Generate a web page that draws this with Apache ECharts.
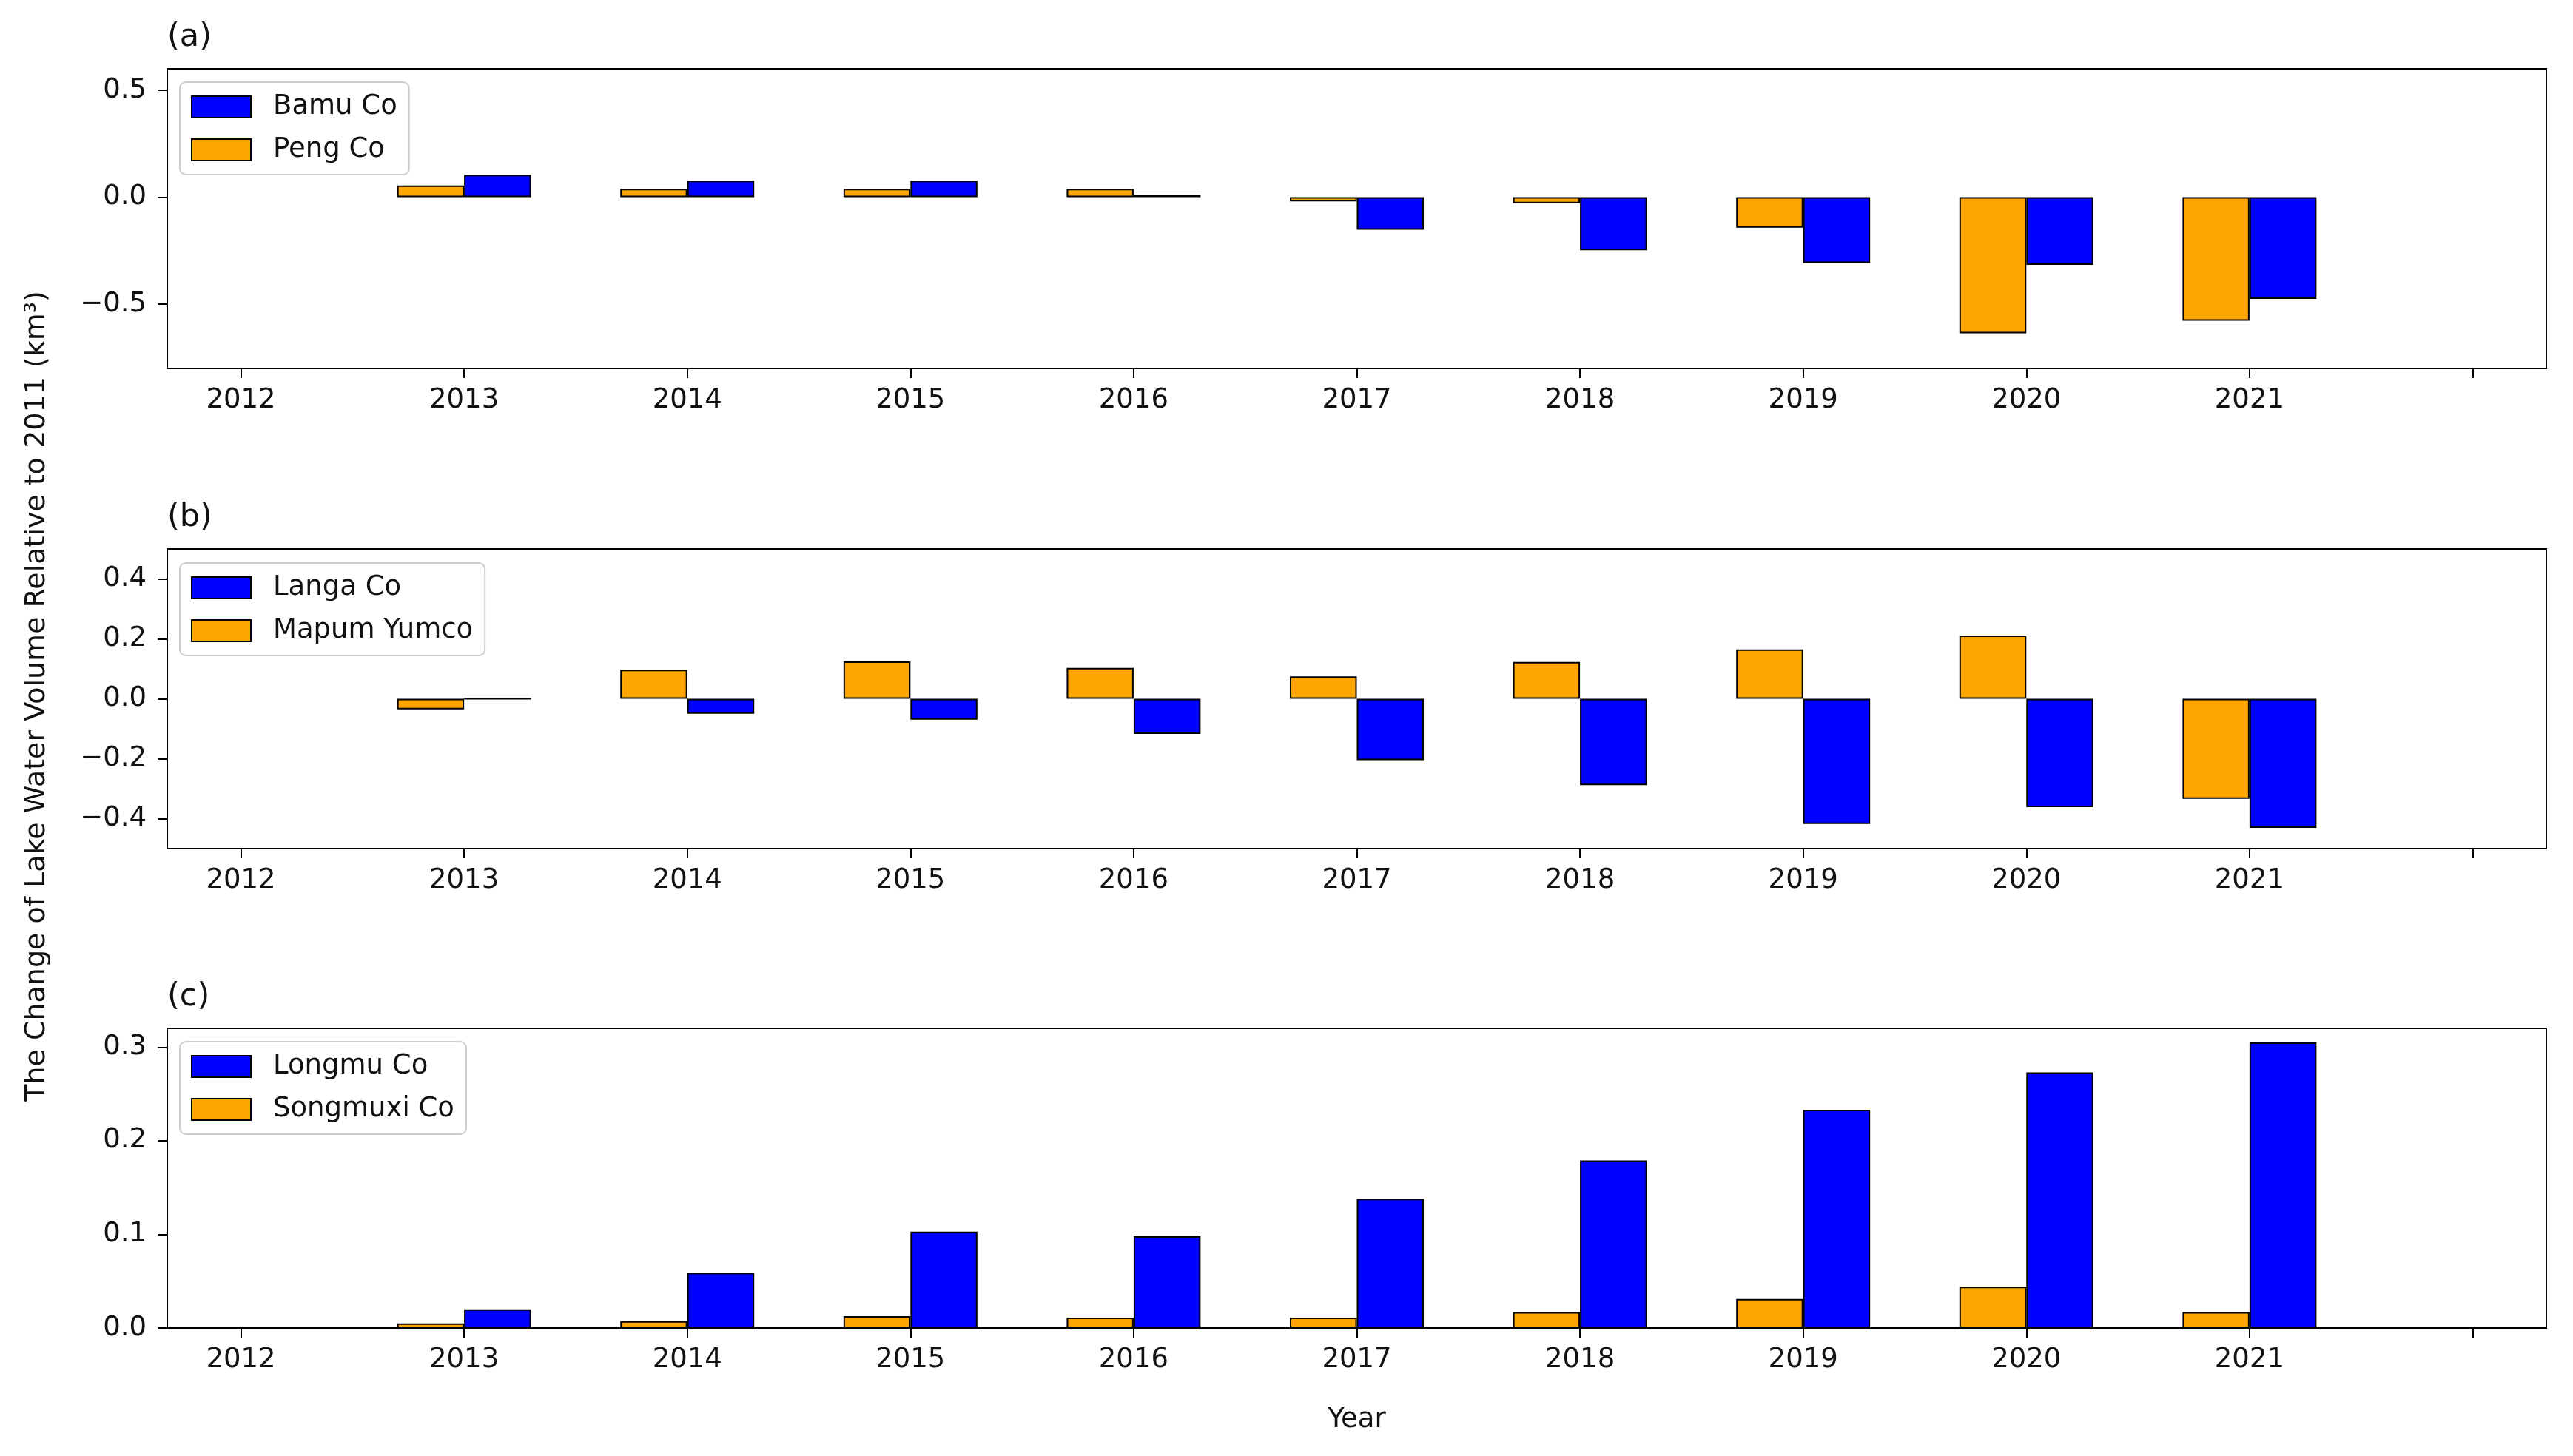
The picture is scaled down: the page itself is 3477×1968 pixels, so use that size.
<!DOCTYPE html>
<html>
<head>
<meta charset="utf-8">
<script src="https://cdn.jsdelivr.net/npm/echarts@6/dist/echarts.min.js"></script>
<style>
html,body{margin:0;padding:0;background:#fff;}
#chart{width:3477px;height:1968px;}
</style>
</head>
<body>
<div id="chart"></div>
<script>
// ---- data ----
const years = [2013, 2014, 2015, 2016, 2017, 2018, 2019, 2020, 2021];
const tickYears = [2012, 2013, 2014, 2015, 2016, 2017, 2018, 2019, 2020, 2021, 2022];
const labelYears = [2012, 2013, 2014, 2015, 2016, 2017, 2018, 2019, 2020, 2021];

// panel (a)
const bamuCo = [0.105, 0.077, 0.077, 0.010, -0.152, -0.248, -0.307, -0.316, -0.475];
const pengCo = [0.055, 0.039, 0.039, 0.039, -0.020, -0.028, -0.142, -0.636, -0.577];
// panel (b)
const langaCo = [0.000, -0.050, -0.070, -0.117, -0.205, -0.288, -0.418, -0.362, -0.431];
const mapumYumco = [-0.035, 0.097, 0.125, 0.103, 0.075, 0.123, 0.165, 0.211, -0.334];
// panel (c)
const longmuCo = [0.020, 0.059, 0.103, 0.098, 0.138, 0.179, 0.233, 0.273, 0.305];
const songmuxiCo = [0.005, 0.0074, 0.0127, 0.011, 0.011, 0.017, 0.031, 0.044, 0.017];

const yTicksA = [-0.5, 0.0, 0.5];
const yTicksB = [-0.4, -0.2, 0.0, 0.2, 0.4];
const yTicksC = [0.0, 0.1, 0.2, 0.3];

const panelLabels = ['(a)', '(b)', '(c)'];
const yTitle = 'The Change of Lake Water Volume Relative to 2011 (km\u00B3)';
const xTitle = 'Year';

// ---- styling ----
const FONT = 'DejaVu Sans';
const BLUE = '#0000ff';
const ORANGE = '#ffa500';
const TXT = '#111';

const gridTops = [93, 742, 1390];
const gridH = 405;

function pairs(vals) { return years.map((y, i) => [y, vals[i]]); }
function fmt(v) {
  const s = Math.abs(v).toFixed(1);
  return (v < -1e-9 ? '\u2212' : '') + s;
}

const panels = [
  {blue: 'Bamu Co', orange: 'Peng Co', b: bamuCo, o: pengCo, min: -0.8, max: 0.6, ticks: yTicksA},
  {blue: 'Langa Co', orange: 'Mapum Yumco', b: langaCo, o: mapumYumco, min: -0.5, max: 0.5, ticks: yTicksB},
  {blue: 'Longmu Co', orange: 'Songmuxi Co', b: longmuCo, o: songmuxiCo, min: 0, max: 0.32, ticks: yTicksC}
];

const grid = [], xAxis = [], yAxis = [], series = [], legend = [], graphic = [];
const legendTops = [111, 761, 1408];

panels.forEach((p, i) => {
  grid.push({
    show: true, left: 226, right: 36, top: gridTops[i], height: gridH,
    borderColor: '#000', borderWidth: 2, backgroundColor: 'transparent',
    outerBoundsMode: 'none', containLabel: false
  });
  xAxis.push({
    type: 'value', gridIndex: i, min: 2011.67, max: 2022.33,
    name: i === 2 ? xTitle : '',
    nameLocation: 'middle', nameGap: 106,
    nameTextStyle: {fontFamily: FONT, fontSize: 37, color: TXT},
    axisLine: {show: true, onZero: false, lineStyle: {color: '#000', width: 2}},
    axisTick: {show: true, inside: false, length: 13, lineStyle: {color: '#000', width: 2}, customValues: tickYears},
    axisLabel: {show: true, customValues: labelYears, formatter: v => String(Math.round(v)),
      fontFamily: FONT, fontSize: 37, color: TXT, margin: 25},
    splitLine: {show: false}
  });
  yAxis.push({
    type: 'value', gridIndex: i, min: p.min, max: p.max,
    axisLine: {show: true, onZero: false, lineStyle: {color: '#000', width: 2}},
    axisTick: {show: true, inside: false, length: 13, lineStyle: {color: '#000', width: 2}, customValues: p.ticks},
    axisLabel: {show: true, customValues: p.ticks, formatter: fmt,
      fontFamily: FONT, fontSize: 37, color: TXT, margin: 28},
    splitLine: {show: false}
  });
  series.push({
    name: p.orange, type: 'bar', xAxisIndex: i, yAxisIndex: i,
    data: pairs(p.o), barWidth: '30%', barGap: '0%',
    itemStyle: {color: ORANGE, borderColor: '#000', borderWidth: 2},
    emphasis: {disabled: true}
  });
  series.push({
    name: p.blue, type: 'bar', xAxisIndex: i, yAxisIndex: i,
    data: pairs(p.b), barWidth: '30%', barGap: '0%',
    itemStyle: {color: BLUE, borderColor: '#000', borderWidth: 2},
    emphasis: {disabled: true}
  });
  legend.push({
    data: [p.blue, p.orange], orient: 'vertical', left: 243, top: legendTops[i],
    icon: 'rect', itemWidth: 80, itemHeight: 29, itemGap: 21,
    padding: [15, 16, 15, 15],
    backgroundColor: '#fff', borderColor: 'rgba(200,200,200,0.9)', borderWidth: 2, borderRadius: 8,
    selectedMode: false,
    textStyle: {fontFamily: FONT, fontSize: 37, color: TXT, padding: [0, 0, 0, 25]}
  });
  graphic.push({
    type: 'text', left: 226, top: gridTops[i] - 64,
    style: {text: panelLabels[i], font: '43px "DejaVu Sans"', fill: TXT}
  });
});

graphic.push({
  type: 'text', x: 50, y: 941, rotation: Math.PI / 2,
  style: {text: yTitle, font: '38px "DejaVu Sans"', fill: TXT, align: 'center', verticalAlign: 'middle'}
});

const chart = echarts.init(document.getElementById('chart'), null, {renderer: 'canvas'});
chart.setOption({
  backgroundColor: '#fff',
  animation: false,
  grid, xAxis, yAxis, series, legend, graphic
});
</script>
</body>
</html>
